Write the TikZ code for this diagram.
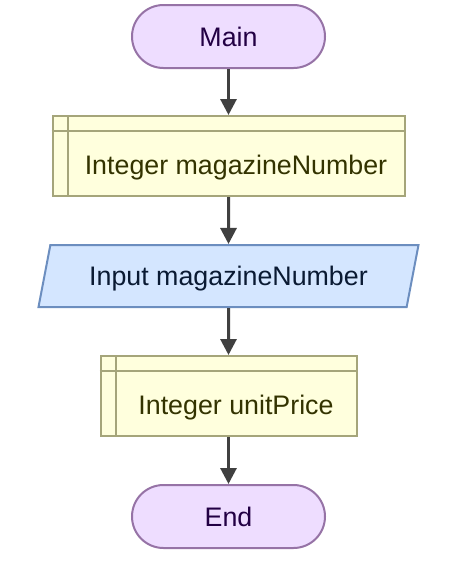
\documentclass[tikz,border=0pt]{standalone}
\usepackage{fontspec}
\setmainfont{Liberation Sans}
\usetikzlibrary{arrows.meta,shapes.geometric}
\definecolor{termfill}{HTML}{EEDDFF}
\definecolor{termdraw}{HTML}{9673A6}
\definecolor{termtext}{HTML}{220044}
\definecolor{procfill}{HTML}{FFFFDD}
\definecolor{procdraw}{HTML}{A5A57A}
\definecolor{proctext}{HTML}{333300}
\definecolor{iofill}{HTML}{D4E6FF}
\definecolor{iodraw}{HTML}{6C8EBF}
\definecolor{iotext}{HTML}{0A1A33}
\definecolor{arrowcol}{HTML}{404040}
\tikzset{
  txt/.style={font=\fontsize{26.8}{31}\selectfont, text height=19pt, text depth=0pt},
  term/.style={draw=termdraw, fill=termfill, line width=2pt, rounded corners=31.5pt,
    minimum width=193pt, minimum height=63pt, inner sep=0pt, txt, text=termtext},
  proc/.style={draw=procdraw, fill=procfill, line width=2pt, inner sep=0pt},
  proclabel/.style={txt, text=proctext, inner sep=0pt},
  io/.style={trapezium, trapezium left angle=64, trapezium right angle=116,
    trapezium stretches=true, draw=iodraw, fill=iofill, line width=2pt,
    minimum width=381pt, minimum height=62pt, inner sep=0pt, txt, text=iotext},
  flow/.style={draw=arrowcol, line width=3pt, -{Triangle[length=16pt,width=16pt]}}
}
\begin{document}
\begin{tikzpicture}[x=1pt,y=-1pt]
\useasboundingbox (0,0) rectangle (449,576);
\node[term] (main) at (228.5,36.5) {Main};
\node[proc, minimum width=352pt, minimum height=80pt] (b1) at (228.5,156) {};
\draw[procdraw, line width=2pt] ([xshift=16pt]b1.north west) -- ([xshift=16pt]b1.south west);
\draw[procdraw, line width=2pt] ([yshift=-16pt]b1.north west) -- ([yshift=-16pt]b1.north east);
\node[proclabel] (t1) at (236,164.5) {Integer magazineNumber};
\node[io] (inp) at (228.5,276) {Input magazineNumber};
\node[proc, minimum width=256pt, minimum height=80pt] (b2) at (228.5,396) {};
\draw[procdraw, line width=2pt] ([xshift=16pt]b2.north west) -- ([xshift=16pt]b2.south west);
\draw[procdraw, line width=2pt] ([yshift=-16pt]b2.north west) -- ([yshift=-16pt]b2.north east);
\node[proclabel] (t2) at (236,404.5) {Integer unitPrice};
\node[term] (end) at (228.5,516.5) {End};
\draw[flow] (main.south) -- (b1.north);
\draw[flow] (b1.south) -- (inp.north);
\draw[flow] (inp.south) -- (b2.north);
\draw[flow] (b2.south) -- (end.north);
\end{tikzpicture}
\end{document}
